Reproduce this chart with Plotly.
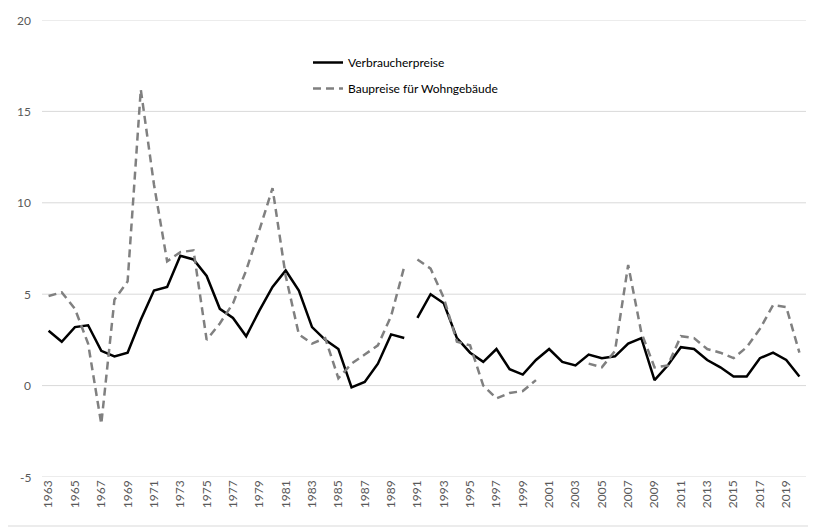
import plotly.graph_objects as go

years_west = list(range(1963, 1991))
years_gesamt = list(range(1991, 2021))

vpi_west = [3.0, 2.4, 3.2, 3.3, 1.9, 1.6, 1.8, 3.6, 5.2, 5.4,
            7.1, 6.9, 6.0, 4.2, 3.7, 2.7, 4.1, 5.4, 6.3, 5.2,
            3.2, 2.5, 2.0, -0.1, 0.2, 1.2, 2.8, 2.6]
vpi_gesamt = [3.7, 5.0, 4.5, 2.6, 1.8, 1.3, 2.0, 0.9, 0.6, 1.4,
              2.0, 1.3, 1.1, 1.7, 1.5, 1.6, 2.3, 2.6, 0.3, 1.1,
              2.1, 2.0, 1.4, 1.0, 0.5, 0.5, 1.5, 1.8, 1.4, 0.5]

bau_west = [4.9, 5.1, 4.2, 2.3, -2.1, 4.7, 5.7, 16.2, 11.0, 6.8,
            7.3, 7.4, 2.5, 3.4, 4.5, 6.3, 8.5, 10.8, 6.0, 2.8,
            2.3, 2.6, 0.4, 1.2, 1.7, 2.2, 3.8, 6.5]
bau_gesamt = [6.9, 6.4, 4.8, 2.4, 2.2, 0.0, -0.7, -0.4, -0.3, 0.3,
              None, None, None, 1.2, 1.0, 1.9, 6.6, 2.9, 1.0, 1.1,
              2.7, 2.6, 2.0, 1.8, 1.5, 2.1, 3.1, 4.4, 4.3, 1.8]

tick_years = list(range(1963, 2021, 2))
y_ticks = [-5, 0, 5, 10, 15, 20]

FONT = "Lato, 'Liberation Sans', sans-serif"
BLACK = "#000000"
GREY = "#808080"
GRID = "#d9d9d9"

fig = go.Figure()
fig.add_trace(go.Scatter(x=years_west, y=vpi_west, mode="lines", name="Verbraucherpreise",
                         legendgroup="vpi", line=dict(color=BLACK, width=2.5)))
fig.add_trace(go.Scatter(x=years_gesamt, y=vpi_gesamt, mode="lines", name="Verbraucherpreise",
                         legendgroup="vpi", showlegend=False, line=dict(color=BLACK, width=2.5)))
fig.add_trace(go.Scatter(x=years_west, y=bau_west, mode="lines", name="Baupreise für Wohngebäude",
                         legendgroup="bau", line=dict(color=GREY, width=2.5, dash="8px,5px")))
fig.add_trace(go.Scatter(x=years_gesamt, y=bau_gesamt, mode="lines", name="Baupreise für Wohngebäude",
                         legendgroup="bau", showlegend=False, connectgaps=False,
                         line=dict(color=GREY, width=2.5, dash="8px,5px")))

# page body has an 8px margin; compensate so the screen positions match
OFF = 8
W, H = 816 - OFF, 529 - OFF
L, T = 42 - OFF, 20 - OFF
R = W - (806 - OFF)
B = H - (477 - OFF)
pw, ph = W - L - R, H - T - B


def px_x(p):  # screen pixel -> paper
    return (p - OFF - L) / pw


def px_y(p):
    return 1 - (p - OFF - T) / ph


shapes = [dict(type="line", xref="paper", yref="y", x0=0, x1=1, y0=v, y1=v,
               line=dict(color=GRID, width=1), layer="below") for v in y_ticks]
shapes += [
    dict(type="line", xref="paper", yref="paper",
         x0=px_x(812), x1=px_x(812), y0=px_y(526), y1=px_y(8),
         line=dict(color=GRID, width=1), layer="below"),
    dict(type="line", xref="paper", yref="paper",
         x0=px_x(8), x1=px_x(812), y0=px_y(526), y1=px_y(526),
         line=dict(color=GRID, width=1), layer="below"),
]

annotations = [dict(xref="paper", yref="y", x=px_x(33), y=v, text=str(v),
                    xanchor="right", yanchor="middle", showarrow=False,
                    font=dict(family=FONT, size=12, color="#595959")) for v in y_ticks]

fig.update_layout(
    template="none",
    width=W, height=H,
    margin=dict(l=L, r=R, t=T, b=B, autoexpand=False),
    paper_bgcolor="white", plot_bgcolor="white",
    font=dict(family=FONT, size=12, color="#595959"),
    showlegend=True,
    legend=dict(x=px_x(308), y=px_y(48), xanchor="left", yanchor="top",
                bgcolor="rgba(0,0,0,0)", font=dict(size=12, color="#000000"),
                traceorder="grouped", tracegroupgap=7),
    xaxis=dict(range=[1962.5, 2020.5], tickmode="array", tickvals=tick_years,
               ticktext=[str(y) for y in tick_years], tickangle=-90,
               showgrid=False, zeroline=False, showline=False, ticks="",
               automargin=False,
               tickfont=dict(size=12, color="#595959")),
    yaxis=dict(range=[-5, 20], tickmode="array", tickvals=y_ticks,
               showgrid=False, zeroline=False, showline=False, ticks="",
               showticklabels=False, automargin=False),
    shapes=shapes,
    annotations=annotations,
)

fig.write_html("out.html")
